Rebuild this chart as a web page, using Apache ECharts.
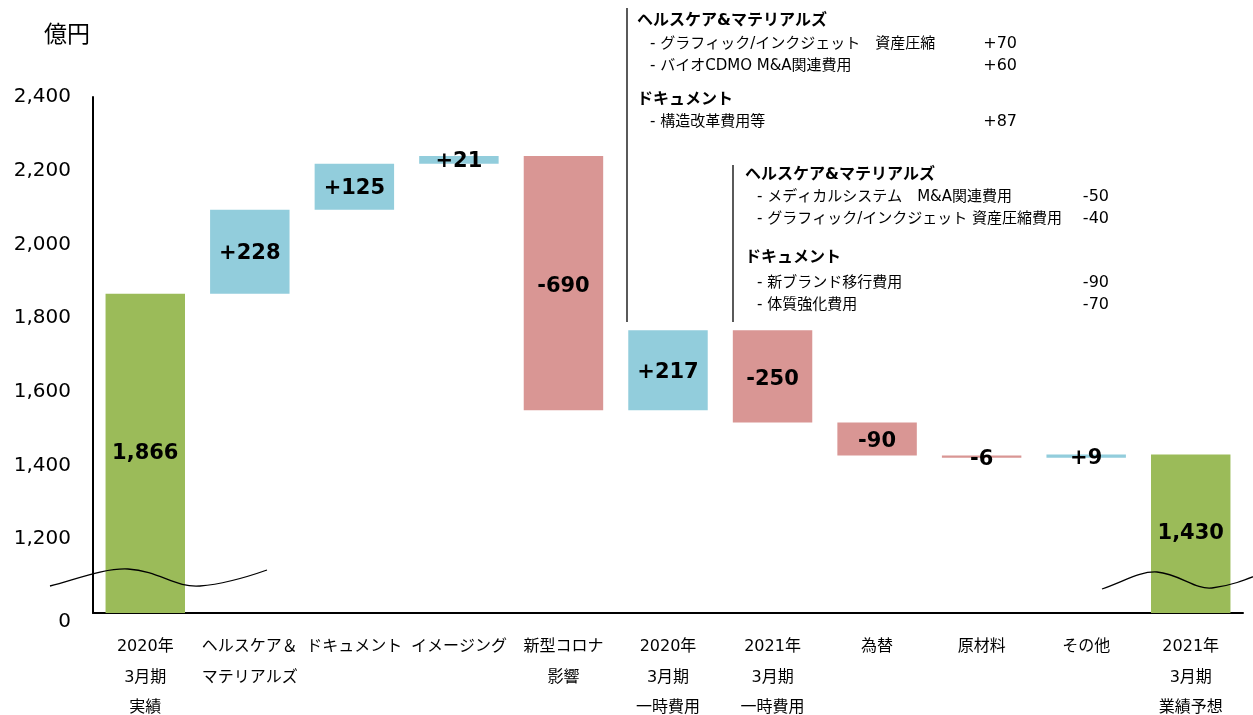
<!DOCTYPE html>
<html>
<head>
<meta charset="utf-8">
<script src="https://cdn.jsdelivr.net/npm/echarts@6/dist/echarts.min.js"></script>
<style>
  html, body { margin: 0; padding: 0; background: #fff; }
  #graph { width: 1253px; height: 715px; }
</style>
</head>
<body>
<div id="graph"></div>
<script>
const categories = [
  '2020年\n3月期\n実績', 'ヘルスケア＆\nマテリアルズ', 'ドキュメント', 'イメージング', '新型コロナ\n影響',
  '2020年\n3月期\n一時費用', '2021年\n3月期\n一時費用', '為替', '原材料', 'その他', '2021年\n3月期\n業績予想'
];
const totals = [1866, '-', '-', '-', '-', '-', '-', '-', '-', '-', 1430];
const deltas = ['-', 228, 125, 21, -690, 217, -250, -90, -6, 9, '-'];
const yTicks = [1000, 1200, 1400, 1600, 1800, 2000, 2200, 2400];

const FONT = '"DejaVu Sans", "Noto Sans CJK JP", sans-serif';
const JP = '"Noto Sans CJK JP", sans-serif';

// waterfall helpers
const base = [], ups = [], downs = [];
let running = totals[0];
categories.forEach((c, i) => {
  if (totals[i] !== '-') {
    base.push(0); ups.push('-'); downs.push('-');
    running = totals[i];
  } else if (deltas[i] >= 0) {
    base.push(running); ups.push(deltas[i]); downs.push('-');
    running += deltas[i];
  } else {
    running += deltas[i];
    base.push(running); ups.push('-'); downs.push(-deltas[i]);
  }
});

const barLabel = {
  show: true,
  position: 'inside',
  color: '#000',
  fontFamily: FONT,
  fontWeight: 'bold',
  fontSize: 21
};

function txt(x, y, text, opt) {
  opt = opt || {};
  return {
    type: 'text', x: x, y: y, z: 100,
    style: {
      text: text,
      fill: '#000',
      font: (opt.bold ? 'bold ' : '') + (opt.size || 15) + 'px ' + FONT,
      align: opt.align || 'left',
      verticalAlign: 'middle'
    }
  };
}
function num(x, y, text) {
  return txt(x, y, text, { align: 'right', size: 16 });
}
function head(x, y, text) {
  return txt(x, y, text, { bold: true, size: 16 });
}
function vline(x, y1, y2) {
  return { type: 'line', z: 100, shape: { x1: x, y1: y1, x2: x, y2: y2 }, style: { stroke: '#000', lineWidth: 1.3 } };
}
function wave(x1, y1, cx1, cy1, cx2, cy2, x2, y2) {
  return { type: 'bezierCurve', z: 100,
    shape: { x1: x1, y1: y1, cpx1: cx1, cpy1: cy1, cpx2: cx2, cpy2: cy2, x2: x2, y2: y2 },
    style: { stroke: '#000', lineWidth: 1.3, fill: null } };
}

const graphics = [
  // axis break marks
  wave(50, 586, 80, 578, 105, 568, 128, 569),
  wave(128, 569, 160, 571, 175, 588, 200, 586),
  wave(200, 586, 225, 584, 250, 576, 267, 570),
  wave(1102, 589, 1125, 581, 1140, 571, 1157, 572),
  wave(1157, 572, 1180, 574, 1195, 590, 1212, 588),
  wave(1212, 588, 1230, 586, 1245, 580, 1260, 574),
  // notes
  vline(627, 8, 322),
  head(637, 21, 'ヘルスケア&マテリアルズ'),
  txt(650, 44, '- グラフィック/インクジェット　資産圧縮'),
  num(1017, 44, '+70'),
  txt(650, 66, '- バイオCDMO M&A関連費用'),
  num(1017, 66, '+60'),
  head(637, 100, 'ドキュメント'),
  txt(650, 122, '- 構造改革費用等'),
  num(1017, 122, '+87'),
  vline(733, 165, 322),
  head(745, 175, 'ヘルスケア&マテリアルズ'),
  txt(757, 197, '- メディカルシステム　M&A関連費用'),
  num(1109, 197, '-50'),
  txt(757, 219, '- グラフィック/インクジェット 資産圧縮費用'),
  num(1109, 219, '-40'),
  head(745, 258, 'ドキュメント'),
  txt(757, 283, '- 新ブランド移行費用'),
  num(1109, 283, '-90'),
  txt(757, 305, '- 体質強化費用'),
  num(1109, 305, '-70')
];

const chart = echarts.init(document.getElementById('graph'));
chart.setOption({
  animation: false,
  title: {
    text: '億円', left: 39, top: 17,
    textStyle: { fontFamily: JP, fontWeight: 'normal', fontSize: 23, color: '#000' }
  },
  grid: { left: 93, right: 10, top: 97, bottom: 102, containLabel: false, outerBoundsMode: 'none' },
  xAxis: {
    type: 'category',
    data: categories,
    axisLine: { show: true, lineStyle: { color: '#000', width: 2 } },
    axisTick: { show: false },
    axisLabel: { interval: 0, margin: 19, fontFamily: FONT, fontSize: 16, lineHeight: 30.5, color: '#000', verticalAlign: 'top' }
  },
  yAxis: {
    type: 'value',
    min: 1000, max: 2400, interval: 200,
    splitLine: { show: false },
    axisTick: { show: false },
    axisLine: { show: true, lineStyle: { color: '#000', width: 2 } },
    axisLabel: {
      margin: 22, fontFamily: FONT, fontSize: 20, color: '#000',
      formatter: v => yTicks.indexOf(v) === 0 ? '{z|0}' : v.toLocaleString('en-US'),
      rich: { z: { fontFamily: FONT, fontSize: 20, color: '#000', padding: [18, 0, 0, 0] } }
    }
  },
  series: [
    { name: 'base', type: 'bar', stack: 'w', data: base, barWidth: '76%',
      itemStyle: { color: 'transparent' }, emphasis: { disabled: true } },
    { name: 'total', type: 'bar', stack: 'w', data: totals,
      itemStyle: { color: '#9BBB59' },
      label: Object.assign({}, barLabel, { formatter: p => p.value.toLocaleString('en-US') }) },
    { name: 'up', type: 'bar', stack: 'w', data: ups,
      itemStyle: { color: '#92CDDC' },
      label: Object.assign({}, barLabel, { offset: [0, 2], formatter: p => '+' + p.value }) },
    { name: 'down', type: 'bar', stack: 'w', data: downs,
      itemStyle: { color: '#D99694' },
      label: Object.assign({}, barLabel, { offset: [0, 3], formatter: p => '-' + p.value }) }
  ],
  graphic: graphics
});
</script>
</body>
</html>
